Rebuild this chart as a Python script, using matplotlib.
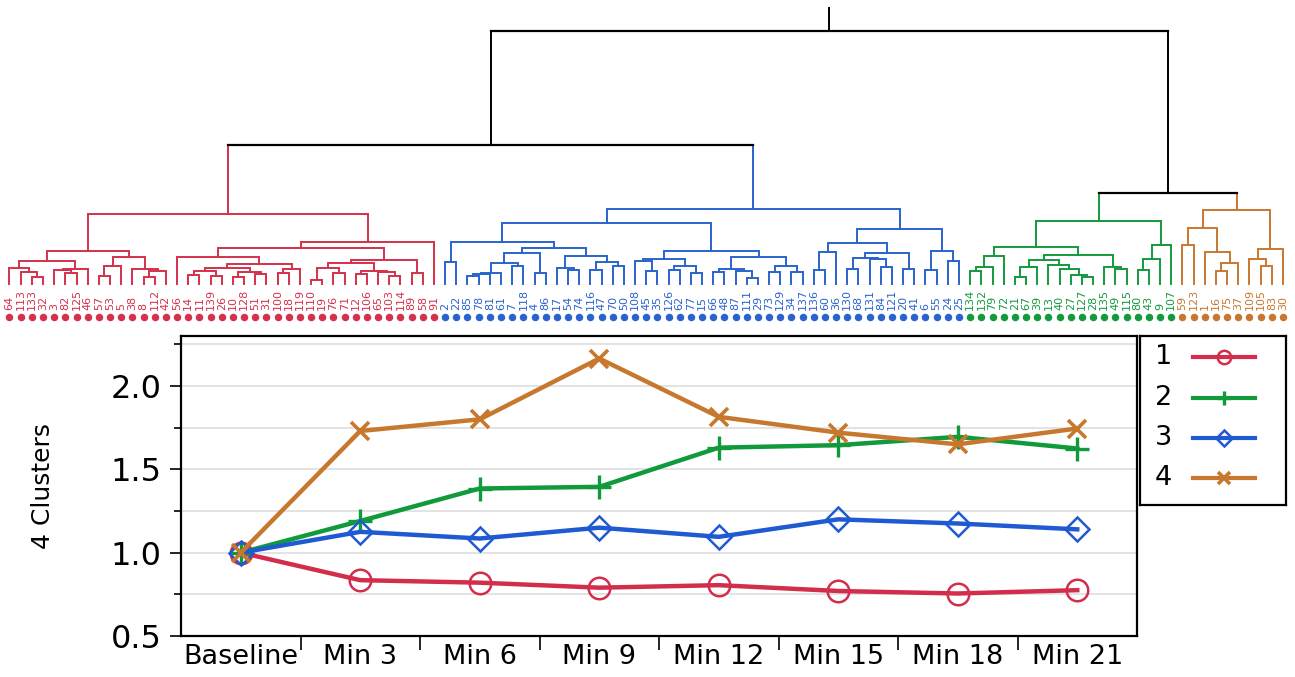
import matplotlib
matplotlib.use("Agg")
import matplotlib.pyplot as plt

# leaf labels of each cluster, left to right in dendrogram order
red_leaves = [64, 113, 133, 32, 3, 82, 125, 46, 57, 53, 5, 38, 8, 112, 42,
              56, 14, 11, 139, 26, 10, 128, 51, 31, 100, 18, 119, 110, 19, 76,
              71, 12, 106, 65, 103, 114, 89, 58, 91]
blue_leaves = [2, 22, 85, 78, 81, 61, 7, 118, 4, 86, 17, 54, 74, 116, 47, 70,
               50, 108, 45, 35, 126, 62, 77, 15, 66, 48, 87, 111, 29, 73, 129,
               34, 137, 136, 60, 36, 130, 68, 131, 84, 121, 20, 41, 6, 55, 24, 25]
green_leaves = [134, 132, 79, 72, 21, 67, 39, 13, 40, 27, 127, 28, 135, 49,
                115, 80, 43, 9, 107]
orange_leaves = [59, 123, 1, 16, 75, 37, 109, 105, 83, 30]

# merges as (left, right, height); ints are leaf positions inside the cluster
red_tree = (
    (((0, (1, (2, 3, 7.3), 12.3), 16), ((4, (5, 6, 11), 14), 7, 15.5), 23.3),
     (((8, 9, 8), 10, 18), (11, ((12, 13, 7.3), 14, 13), 14.7), 27.3),
     33.5),
    (((15, ((((16, 17, 9), (18, 19, 8), 13.3), ((20, 21, 7), (22, 23, 10), 12), 15.7),
             ((24, 25, 11.3), 26, 14.7), 20), 26.7),
      ((((27, 28, 4), (29, 30, 11.3), 15.7),
        ((31, 32, 10), (33, (34, 35, 8), 12), 13.3), 21.3),
       (36, 37, 11.3), 24), 36.3),
     38, 42.3),
    70)
blue_tree = (
    ((0, 1, 21.7),
     ((((((2, 3, 8), 4, 10), 5, 10.7), (6, 7, 18), 20.7), (8, 9, 11.3), 30.7),
      ((10, (11, 12, 14), 16.3), ((13, 14, 14), (15, 16, 18), 22.3), 28), 35.7),
     42.3),
    (((17, (18, 19, 13), 23.3), ((20, 21, 14), (22, 23, 10.7), 18), 24.7),
     ((((24, 25, 12.3), (26, (27, 28, 6.3), 13), 14.7),
       ((29, 30, 12.3), (31, 32, 11.7), 18), 27.3)),
     33),
    61.3)
blue_tree = (blue_tree,
             ((((33, 34, 14), 35, 32.3),
               ((((36, 37, 14.7), (38, (39, 40, 17.3), 25), 25.7), (41, 42, 14.7), 31.3)),
               41.3),
              ((43, 44, 14), (45, 46, 23.3), 33.3), 54.7),
             75)
green_tree = (
    ((((0, 1, 13.3), 2, 16.7), 3, 28),
     ((((4, 5, 7.3), 6, 16.7), (7, (8, (9, (10, 11, 7.3), 9), 14.7), 19), 24),
      (12, (13, 14, 14.7), 16.7), 29),
     36.7),
    ((((15, 16, 14), 17, 24.7), 18, 39)),
    63)
orange_tree = (
    ((0, 1, 39), (2, ((3, 4, 13.3), 5, 21.3), 32.3), 55.7),
    ((6, (7, 8, 18), 25), 9, 34.7),
    73.7)

# joins above the four clusters
red_blue_height = 139
green_orange_height = 91
root_height = 253.5
root_top = 276

cluster_colors = ["#d5304c", "#2a63cf", "#139a3d", "#c8772f"]

# cluster means over time
periods = ["Baseline", "Min 3", "Min 6", "Min 9", "Min 12", "Min 15", "Min 18", "Min 21"]
cluster_1 = [1.0, 0.835, 0.82, 0.79, 0.805, 0.77, 0.755, 0.775]
cluster_2 = [1.0, 1.19, 1.385, 1.395, 1.63, 1.645, 1.695, 1.625]
cluster_3 = [1.0, 1.125, 1.085, 1.15, 1.095, 1.2, 1.175, 1.14]
cluster_4 = [1.0, 1.73, 1.80, 2.165, 1.815, 1.72, 1.65, 1.745]

line_colors = ["#d22d4b", "#109a3b", "#1f5ad2", "#c8782e"]
markers = [dict(marker="o", ms=15.5, mfc="none", mew=1.8),
           dict(marker="+", ms=17, mew=2.4),
           dict(marker="D", ms=12.5, mfc="none", mew=1.8),
           dict(marker="x", ms=13, mew=2.6)]


def draw_node(ax, node, offset, color):
    """Draw a subtree, return x position and height of its top."""
    if isinstance(node, int):
        return offset + node, 0.0
    left, right, h = node
    xl, hl = draw_node(ax, left, offset, color)
    xr, hr = draw_node(ax, right, offset, color)
    ax.plot([xl, xl, xr, xr], [hl, h, h, hr], color=color, lw=1.4,
            solid_joinstyle="miter", zorder=2)
    return (xl + xr) / 2, h


fig = plt.figure(figsize=(12.95, 6.77), dpi=100)

# ---- dendrogram ----
dax = fig.add_axes([0, 1 - 330 / 677, 1, 330 / 677])
dax.set_xlim(-0.85, 115.08)
dax.set_ylim(-46, 284)
dax.axis("off")

clusters = [(red_tree, red_leaves), (blue_tree, blue_leaves),
            (green_tree, green_leaves), (orange_tree, orange_leaves)]
tops = []
offset = 0
for (tree, leaves), col in zip(clusters, cluster_colors):
    tops.append(draw_node(dax, tree, offset, col))
    for i, lbl in enumerate(leaves):
        dax.text(offset + i, -26, str(lbl), rotation=90, ha="center", va="bottom",
                 fontsize=8, color=col)
    xs = [offset + i for i in range(len(leaves))]
    dax.plot(xs, [-32.5] * len(xs), "o", ms=5.4, color=col, mec="none")
    offset += len(leaves)


def join(a, b, col_a, col_b, h):
    (xa, ha), (xb, hb) = a, b
    dax.plot([xa, xa], [ha, h], color=col_a, lw=1.4)
    dax.plot([xb, xb], [hb, h], color=col_b, lw=1.4)
    dax.plot([xa, xb], [h, h], color="black", lw=1.6)
    return (xa + xb) / 2, h


left = join(tops[0], tops[1], cluster_colors[0], cluster_colors[1], red_blue_height)
right = join(tops[2], tops[3], cluster_colors[2], cluster_colors[3], green_orange_height)
root = join(left, right, "black", "black", root_height)
dax.plot([root[0], root[0]], [root_height, root_top], color="black", lw=1.4)

# ---- cluster means ----
ax = fig.add_axes([181 / 1295, 41 / 677, 956 / 1295, 300 / 677])
x = range(len(periods))
for vals, col, mk in zip([cluster_1, cluster_2, cluster_3, cluster_4], line_colors, markers):
    ax.plot(x, vals, color=col, lw=3.2, zorder=3, mec=col, **mk)

ax.set_xlim(-0.5, len(periods) - 0.5)
ax.set_ylim(0.5, 2.3)
ax.set_yticks([0.5, 1.0, 1.5, 2.0])
ax.set_yticks([0.75, 1.25, 1.75, 2.25], minor=True)
ax.set_yticklabels(["0.5", "1.0", "1.5", "2.0"])
ax.set_xticks(list(x))
ax.set_xticklabels(periods)
ax.set_xticks([i + 0.5 for i in range(len(periods) - 1)], minor=True)
ax.tick_params(axis="x", which="major", length=0, labelsize=19.5, pad=6)
ax.tick_params(axis="x", which="minor", length=10, width=1.2, direction="out")
ax.tick_params(axis="y", which="major", length=8, width=1.2, labelsize=23, pad=6)
ax.tick_params(axis="y", which="minor", length=5, width=1.2)
for yv in [0.75, 1.0, 1.25, 1.5, 1.75, 2.0, 2.25]:
    ax.axhline(yv, color="#dedede", lw=1.2, zorder=1)
for s in ax.spines.values():
    s.set_linewidth(1.6)
ax.set_ylabel("4 Clusters", fontsize=18, labelpad=40)

# legend box on the right
lax = fig.add_axes([1140 / 1295, 172 / 677, 146 / 1295, 169 / 677])
lax.set_xlim(0, 1)
lax.set_ylim(0, 1)
lax.set_xticks([])
lax.set_yticks([])
for s in lax.spines.values():
    s.set_linewidth(1.6)
rows = [0.876, 0.633, 0.396, 0.16]
for k, (yy, col, mk) in enumerate(zip(rows, line_colors, markers)):
    lax.text(0.16, yy, str(k + 1), fontsize=19.5, ha="center", va="center")
    lax.plot([0.36, 0.79], [yy, yy], color=col, lw=3.0)
    small = dict(mk)
    small["ms"] = mk["ms"] * 0.62
    lax.plot([0.575], [yy], color=col, mec=col, **small)

fig.savefig("out.png", dpi=100)
